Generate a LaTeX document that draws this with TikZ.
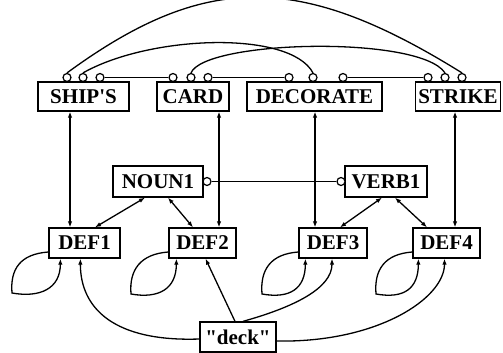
\documentclass[tikz,border=0pt]{standalone}
\usepackage{fontspec}
\setmainfont{Liberation Serif}[Ligatures=TeXOff]
\usetikzlibrary{arrows.meta}
\begin{document}
\begin{tikzpicture}[x=1pt,y=-1pt,
  line width=1.3pt,
  word/.style={draw,inner sep=0pt,minimum height=29pt,
    font=\fontsize{21}{23}\selectfont\bfseries},
  port/.style={draw,circle,fill=white,minimum size=8pt,inner sep=0pt,line width=1.2pt},
  tip/.style={-{Latex[length=6pt,width=4.5pt]}},
  both/.style={{Latex[length=6pt,width=4.5pt]}-{Latex[length=6pt,width=4.5pt]}}]
\useasboundingbox (0,0) rectangle (503,353);

% word nodes
\node[word,minimum width=91pt] (ships) at (83.5,96.5) {SHIP'S};
\node[word,minimum width=72pt] (card)  at (193,96.5) {CARD};
\node[word,minimum width=135pt] (deco) at (314.5,96.5) {DECORATE};
\node[word,minimum width=85pt] (strike) at (458,96.5) {STRIKE};

% sense nodes
\node[word,minimum width=90pt,minimum height=31pt] (noun) at (158,181.5) {NOUN1};
\node[word,minimum width=82pt,minimum height=31pt] (verb) at (386,181.5) {VERB1};

% definition nodes
\node[word,minimum width=71pt,minimum height=30pt] (def1) at (84.5,243) {DEF1};
\node[word,minimum width=67pt,minimum height=30pt] (def2) at (202.5,243) {DEF2};
\node[word,minimum width=68pt,minimum height=30pt] (def3) at (333,243) {DEF3};
\node[word,minimum width=67pt,minimum height=30pt] (def4) at (446.5,243) {DEF4};

\node[word,minimum width=76pt,minimum height=30pt] (deck) at (238,337) {"deck"};

% ports on the word nodes
\foreach \n/\x in {sa/67,sb/83,sc/100,ca/173,cb/191,cc/208,
                   da/289,db/313,dc/343,ka/428,kb/445,kc/462}
  \node[port] (\n) at (\x,77.5) {};
\node[port] (nport) at (207,181.5) {};
\node[port] (vport) at (341,181.5) {};

% arcs over the word nodes, port to port
\draw (sa.north) .. controls (205,-28) and (300,-28) .. (kc.north);
\draw (sb.north) .. controls (150,35) and (290,30) .. (db.north);
\draw (cb.north) .. controls (205,40) and (420,35) .. (kb.north);

% straight links between ports
\draw (sc.east) -- (ca.west);
\draw (cc.east) -- (da.west);
\draw (dc.east) -- (ka.west);
\draw (nport.east) -- (vport.west);

% word to definition
\coordinate (v1) at (70,0);
\coordinate (v2) at (219,0);
\coordinate (v3) at (315,0);
\coordinate (v4) at (455,0);
\draw[both] (ships.south -| v1) -- (def1.north -| v1);
\draw[both] (card.south -| v2) -- (def2.north -| v2);
\draw[both] (deco.south -| v3) -- (def3.north -| v3);
\draw[both] (strike.south -| v4) -- (def4.north -| v4);

% sense to definition
\draw[both] ([xshift=-13pt]noun.south) -- ([xshift=10.5pt]def1.north);
\draw[both] ([xshift=10pt]noun.south) -- ([xshift=-9.5pt]def2.north);
\draw[both] ([xshift=-4pt]verb.south) -- ([xshift=7pt]def3.north);
\draw[both] ([xshift=9pt]verb.south) -- ([xshift=-19.5pt]def4.north);

% self loops on the definitions
\coordinate (t1) at (12,293);
\coordinate (t2) at (131,294);
\coordinate (t3) at (262,294);
\coordinate (t4) at (376,294);
\draw[tip] ([yshift=-9pt]def1.west) .. controls +(-28,2) and +(-2,-24) .. (t1)
  .. controls +(28,5) and +(0,30) .. ([xshift=12pt]def1.south west);
\draw[tip] ([yshift=-9pt]def2.west) .. controls +(-28,2) and +(-2,-24) .. (t2)
  .. controls +(28,5) and +(0,30) .. ([xshift=8pt]def2.south west);
\draw[tip] ([yshift=-9pt]def3.west) .. controls +(-28,2) and +(-2,-24) .. (t3)
  .. controls +(28,5) and +(0,30) .. ([xshift=7pt]def3.south west);
\draw[tip] ([yshift=-9pt]def4.west) .. controls +(-28,2) and +(-2,-24) .. (t4)
  .. controls +(28,5) and +(0,30) .. ([xshift=6pt]def4.south west);

% "deck" to the definitions
\draw[tip] ([yshift=-2pt]deck.west) .. controls +(-85,3) and +(0,50) .. ([xshift=32pt]def1.south west);
\draw[tip] ([xshift=-3pt]deck.north) -- ([xshift=3pt]def2.south);
\draw[tip] ([xshift=5pt]deck.north) .. controls +(50,-14) and +(0,30) .. ([xshift=-1pt]def3.south);
\draw[tip] ([yshift=-4pt]deck.east) .. controls +(100,2) and +(0,40) .. ([xshift=-2pt]def4.south);
\end{tikzpicture}
\end{document}
